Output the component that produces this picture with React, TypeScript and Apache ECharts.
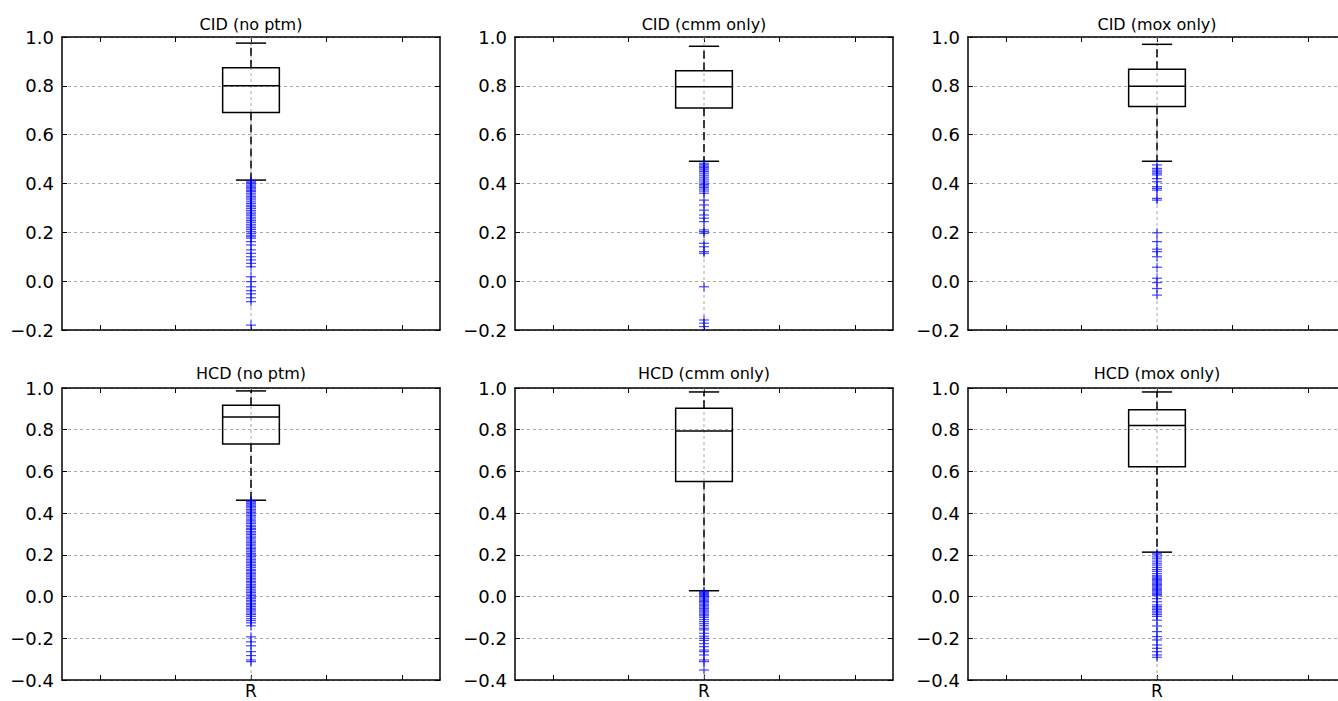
import React, { useEffect, useRef } from "react";
import * as echarts from "echarts";

// ---------- data ----------
const panelTitles = [
  "CID (no ptm)",
  "CID (cmm only)",
  "CID (mox only)",
  "HCD (no ptm)",
  "HCD (cmm only)",
  "HCD (mox only)",
];
const categoryLabel = "R";
const yMaxAll = 1.0;
const yMinTopRow = -0.2;
const yMinBottomRow = -0.4;
const yStep = 0.2;
const xTickValues = [0.6, 0.8, 1.0, 1.2, 1.4];

// [lower whisker, Q1, median, Q3, upper whisker]
const statsCIDnoPtm = [0.414, 0.691, 0.8, 0.874, 0.975];
const statsCIDcmm = [0.491, 0.709, 0.796, 0.862, 0.962];
const statsCIDmox = [0.491, 0.715, 0.798, 0.868, 0.97];
const statsHCDnoPtm = [0.462, 0.732, 0.861, 0.917, 0.986];
const statsHCDcmm = [0.028, 0.552, 0.794, 0.903, 0.981];
const statsHCDmox = [0.213, 0.622, 0.82, 0.896, 0.981];

const outCIDnoPtm = [
  0.41, 0.405, 0.4, 0.394, 0.389, 0.383, 0.378, 0.372, 0.367, 0.36, 0.353, 0.346,
  0.34, 0.333, 0.325, 0.318, 0.311, 0.305, 0.298, 0.29, 0.283, 0.276, 0.27, 0.262,
  0.255, 0.248, 0.241, 0.233, 0.226, 0.219, 0.212, 0.204, 0.196, 0.188, 0.182,
  0.176, 0.162, 0.148, 0.128, 0.114, 0.1, 0.087, 0.073, 0.059, 0.018, -0.002,
  -0.023, -0.039, -0.052, -0.068, -0.084, -0.18,
];
const outCIDcmm = [
  0.483, 0.477, 0.471, 0.466, 0.46, 0.455, 0.449, 0.442, 0.434, 0.426, 0.418,
  0.41, 0.402, 0.396, 0.39, 0.384, 0.377, 0.369, 0.36, 0.332, 0.312, 0.291,
  0.271, 0.258, 0.244, 0.21, 0.203, 0.196, 0.155, 0.141, 0.121, 0.114, -0.023,
  -0.159, -0.172, -0.186,
];
const outCIDmox = [
  0.476, 0.462, 0.455, 0.448, 0.442, 0.435, 0.42, 0.407, 0.387, 0.38, 0.373,
  0.339, 0.332, 0.198, 0.162, 0.131, 0.121, 0.1, 0.057, 0.012, -0.006, -0.03,
  -0.057,
];
const outHCDnoPtm = [
  0.46, 0.455, 0.449, 0.444, 0.438, 0.431, 0.425, 0.417, 0.41, 0.403, 0.396,
  0.388, 0.381, 0.372, 0.366, 0.358, 0.351, 0.342, 0.335, 0.327, 0.321, 0.312,
  0.305, 0.298, 0.29, 0.282, 0.276, 0.267, 0.26, 0.252, 0.246, 0.237, 0.23,
  0.223, 0.215, 0.207, 0.2, 0.193, 0.185, 0.177, 0.17, 0.163, 0.155, 0.148,
  0.14, 0.131, 0.125, 0.117, 0.11, 0.103, 0.095, 0.087, 0.08, 0.072, 0.066,
  0.057, 0.05, 0.043, 0.035, 0.027, 0.02, 0.012, 0.005, -0.003, -0.01, -0.018,
  -0.025, -0.034, -0.04, -0.048, -0.056, -0.063, -0.07, -0.079, -0.086, -0.095,
  -0.106, -0.115, -0.126, -0.14, -0.193, -0.217, -0.236, -0.264, -0.283,
  -0.304, -0.312,
];
const outHCDcmm = [
  0.025, 0.02, 0.015, 0.01, 0.005, 0.0, -0.006, -0.012, -0.018, -0.024, -0.03,
  -0.037, -0.044, -0.05, -0.057, -0.064, -0.07, -0.078, -0.085, -0.092, -0.1,
  -0.11, -0.12, -0.13, -0.14, -0.152, -0.16, -0.176, -0.19, -0.2, -0.21,
  -0.226, -0.24, -0.256, -0.264, -0.28, -0.304, -0.312, -0.352,
];
const outHCDmox = [
  0.208, 0.2, 0.19, 0.181, 0.17, 0.16, 0.151, 0.14, 0.13, 0.121, 0.11, 0.1,
  0.094, 0.088, 0.082, 0.076, 0.07, 0.064, 0.058, 0.052, 0.046, 0.04, 0.034,
  0.028, 0.022, 0.016, 0.01, 0.004, -0.01, -0.025, -0.04, -0.048, -0.055,
  -0.062, -0.07, -0.078, -0.086, -0.095, -0.113, -0.141, -0.168, -0.192,
  -0.208, -0.232, -0.248, -0.264, -0.28, -0.291,
];

const panelStats = [statsCIDnoPtm, statsCIDcmm, statsCIDmox, statsHCDnoPtm, statsHCDcmm, statsHCDmox];
const panelOutliers = [outCIDnoPtm, outCIDcmm, outCIDmox, outHCDnoPtm, outHCDcmm, outHCDmox];

// ---------- layout ----------
const colLefts = [62, 515, 968];
const panelWidth = 378;
const rowTops = [37, 388];
const rowHeights = [293, 292];
const titleY = [24, 373];
const FONT = "DejaVu Sans";

function fmtTick(v: number): string {
  if (Math.abs(v) < 1e-9) return "0.0";
  return (v < 0 ? "\u2212" : "") + Math.abs(v).toFixed(1);
}

function buildOption() {
  const grid: any[] = [];
  const xAxis: any[] = [];
  const yAxis: any[] = [];
  const series: any[] = [];
  const graphic: any[] = [];

  for (let i = 0; i < 6; i++) {
    const row = Math.floor(i / 3);
    const col = i % 3;
    const left = colLefts[col];
    const top = rowTops[row];
    const height = rowHeights[row];
    const yMin = row === 0 ? yMinTopRow : yMinBottomRow;

    grid.push({ left, top, width: panelWidth, height, containLabel: false, outerBoundsMode: "none" });

    const axisLine = { show: true, onZero: false, lineStyle: { color: "#000", width: 1.5 } };
    const tick = { show: true, inside: true, length: 5, lineStyle: { color: "#000", width: 1 } };

    // bottom x
    xAxis.push({
      type: "value", gridIndex: i, position: "bottom", min: 0.5, max: 1.5,
      axisLine,
      axisTick: { ...tick, customValues: xTickValues },
      axisLabel: {
        show: row === 1, customValues: [1], formatter: () => categoryLabel,
        color: "#000", fontSize: 17, fontFamily: FONT, margin: 2, lineHeight: 17,
      },
      splitLine: { show: false },
    });
    // top x
    xAxis.push({
      type: "value", gridIndex: i, position: "top", min: 0.5, max: 1.5,
      axisLine,
      axisTick: { ...tick, customValues: xTickValues },
      axisLabel: { show: false },
      splitLine: { show: false },
    });
    // left y
    yAxis.push({
      type: "value", gridIndex: i, position: "left", min: yMin, max: yMaxAll, interval: yStep,
      axisLine, axisTick: tick,
      axisLabel: { formatter: fmtTick, color: "#000", fontSize: 18, fontFamily: FONT, margin: 8 },
      splitLine: { show: true, lineStyle: { color: "#a8a8a8", width: 1, type: [3, 3] } },
    });
    // right y
    yAxis.push({
      type: "value", gridIndex: i, position: "right", min: yMin, max: yMaxAll, interval: yStep,
      axisLine, axisTick: tick, axisLabel: { show: false }, splitLine: { show: false },
    });

    const xIdx = i * 2;
    const yIdx = i * 2;
    const s = panelStats[i];

    // box + whiskers + vertical grid line
    series.push({
      type: "custom",
      xAxisIndex: xIdx,
      yAxisIndex: yIdx,
      z: 3,
      data: [[1, s[0], s[1], s[2], s[3], s[4]]],
      renderItem: (params: any, api: any) => {
        const x = api.value(0);
        const lo = api.value(1), q1 = api.value(2), med = api.value(3), q3 = api.value(4), hi = api.value(5);
        const cs = params.coordSys;
        const [cx] = api.coord([x, lo]);
        const pLo = api.coord([x, lo])[1];
        const pQ1 = api.coord([x, q1])[1];
        const pMed = api.coord([x, med])[1];
        const pQ3 = api.coord([x, q3])[1];
        const pHi = api.coord([x, hi])[1];
        const bx0 = api.coord([x - 0.075, med])[0];
        const bx1 = api.coord([x + 0.075, med])[0];
        const cx0 = api.coord([x - 0.04, med])[0];
        const cx1 = api.coord([x + 0.04, med])[0];
        const solid = { stroke: "#000", lineWidth: 1.5, fill: null };
        const dashed = { stroke: "#000", lineWidth: 1.5, lineDash: [8, 4], fill: null };
        return {
          type: "group",
          children: [
            { type: "line", shape: { x1: cx, y1: cs.y, x2: cx, y2: cs.y + cs.height }, style: { stroke: "#a8a8a8", lineWidth: 1, lineDash: [3, 3] }, z2: 0 },
            { type: "line", shape: { x1: cx, y1: pQ3, x2: cx, y2: pHi }, style: dashed, z2: 1 },
            { type: "line", shape: { x1: cx, y1: pQ1, x2: cx, y2: pLo }, style: dashed, z2: 1 },
            { type: "line", shape: { x1: cx0, y1: pHi, x2: cx1, y2: pHi }, style: solid, z2: 2 },
            { type: "line", shape: { x1: cx0, y1: pLo, x2: cx1, y2: pLo }, style: solid, z2: 2 },
            { type: "rect", shape: { x: bx0, y: pQ3, width: bx1 - bx0, height: pQ1 - pQ3 }, style: { stroke: "#000", lineWidth: 1.5, fill: "none" }, z2: 2 },
            { type: "line", shape: { x1: bx0, y1: pMed, x2: bx1, y2: pMed }, style: solid, z2: 2 },
          ],
        };
      },
    });

    // outliers as '+' markers
    series.push({
      type: "custom",
      xAxisIndex: xIdx,
      yAxisIndex: yIdx,
      z: 4,
      data: panelOutliers[i].map((v) => [1, v]),
      renderItem: (params: any, api: any) => {
        const [px, py] = api.coord([api.value(0), api.value(1)]);
        const st = { stroke: "rgba(0,0,255,0.72)", lineWidth: 1.2 };
        return {
          type: "group",
          children: [
            { type: "line", shape: { x1: px - 5, y1: py, x2: px + 5, y2: py }, style: st },
            { type: "line", shape: { x1: px, y1: py - 4.5, x2: px, y2: py + 4.5 }, style: st },
          ],
        };
      },
    });

    graphic.push({
      type: "text",
      x: left + panelWidth / 2,
      y: titleY[row],
      style: {
        text: panelTitles[i],
        fontSize: 16,
        fontFamily: FONT,
        fill: "#000",
        textAlign: "center",
        textVerticalAlign: "middle",
      },
    });
  }

  return {
    animation: false,
    backgroundColor: "#fff",
    grid,
    xAxis,
    yAxis,
    series,
    graphic,
  };
}

export default function App() {
  const ref = useRef<HTMLDivElement>(null);
  useEffect(() => {
    if (!ref.current) return;
    const chart = echarts.init(ref.current, null, { renderer: "svg" });
    chart.setOption(buildOption() as any);
    return () => chart.dispose();
  }, []);
  return (
    <div
      ref={ref}
      style={{ position: "absolute", left: 0, top: 0, width: 1338, height: 701, background: "#fff" }}
    />
  );
}
